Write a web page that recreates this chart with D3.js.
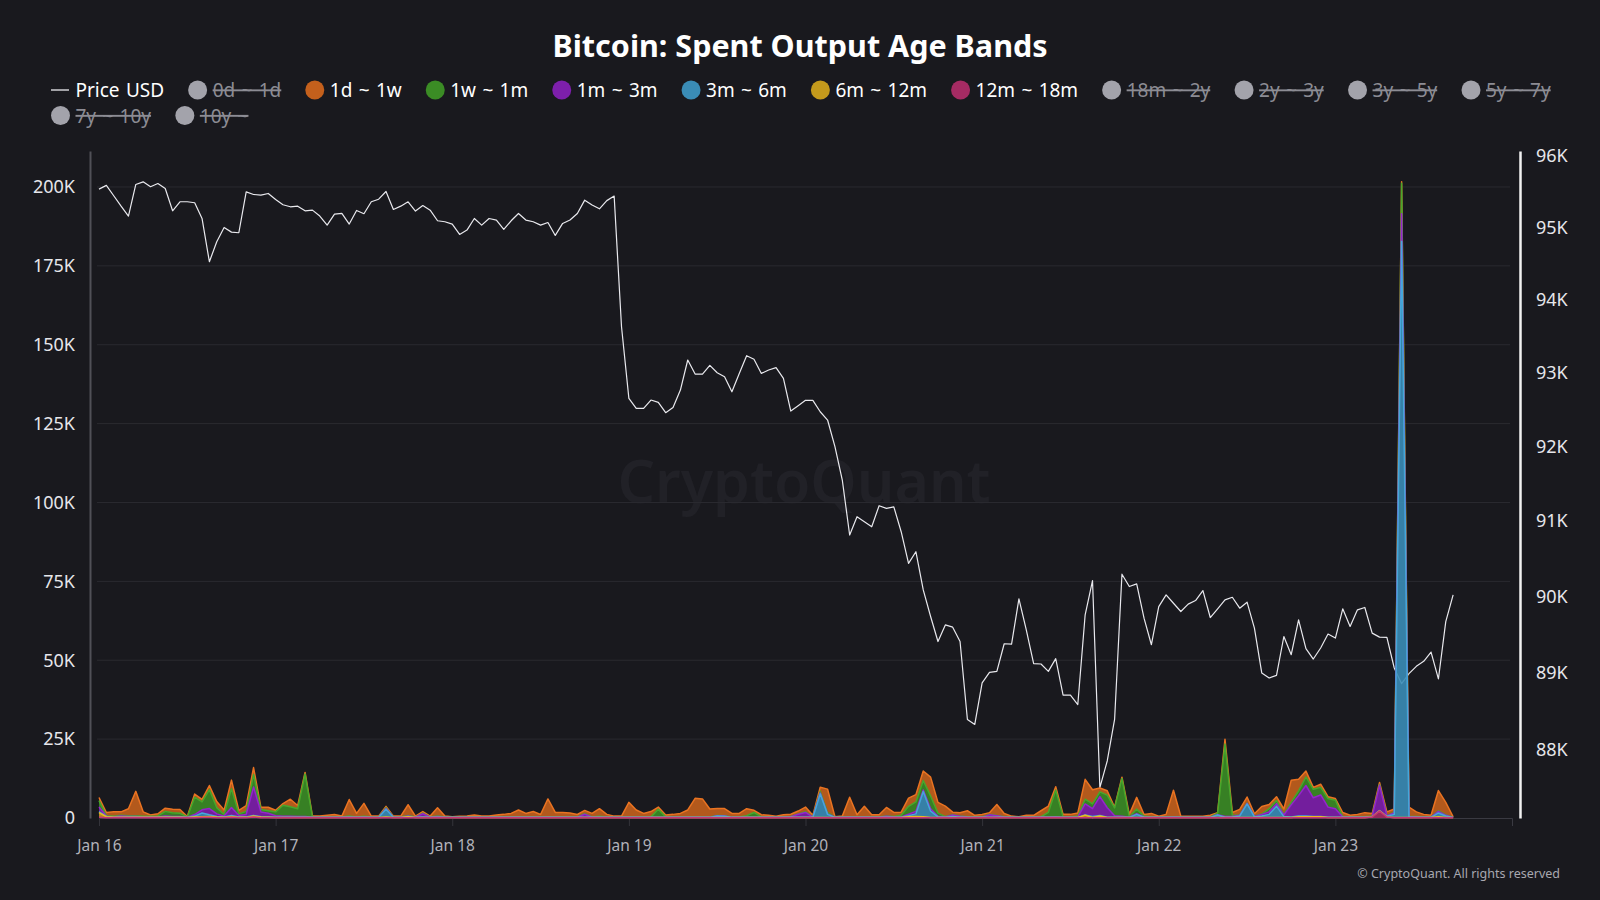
<!DOCTYPE html>
<html>
<head>
<meta charset="utf-8">
<script src="https://cdn.jsdelivr.net/npm/d3@7"></script>
<style>
  html, body { margin: 0; padding: 0; background: #19191e; }
  svg { display: block; }
  text { font-family: "Noto Sans", "Open Sans", sans-serif; }
</style>
</head>
<body>
<div id="chart"></div>
<script>
// hourly data, Jan 16 00:00 UTC onward (185 hours)
// spent output per band, in thousands of BTC
var band1d1w = [
  1.0, 1.0, 1.4, 1.1, 2.2, 7.7, 1.4, 0.4, 0.7, 1.0, 1.1, 1.2, 0.1, 1.0, 0.8, 1.3, 1.9, 1.4, 2.7, 1.1, 1.8, 2.2, 0.7, 1.1,
  0.5, 0.5, 2.4, 1.0, 0.5, 0.3, 0.35, 0.6, 0.8, 0.3, 5.2, 1.1, 4.1, 0.3, 0.3, 0.4, 0.3, 0.3, 3.4, 0.3, 0.5, 0.3, 2.6, 0.3,
  0.1, 0.25, 0.35, 0.6, 0.35, 0.35, 0.6, 0.8, 1.1, 2.2, 1.1, 1.7, 0.8, 5.7, 1.4, 1.4, 1.2, 0.8, 1.0, 1.1, 2.4, 0.8, 0.3, 0.3,
  4.6, 2.2, 1.1, 1.7, 0.7, 0.6, 0.8, 1.1, 2.2, 5.9, 5.7, 2.5, 2.2, 2.3, 1.1, 1.1, 2.2, 0.7, 0.7, 0.5, 0.2, 0.7, 0.7, 0.9,
  1.5, 0.5, 1.3, 7.4, 0.1, 0.3, 6.2, 0.7, 3.3, 0.7, 0.7, 2.7, 1.3, 1.0, 2.6, 2.3, 3.0, 6.0, 3.4, 3.3, 0.8, 1.0, 1.9, 0.5,
  0.8, 0.6, 3.5, 1.0, 0.3, 0.1, 0.5, 0.5, 1.9, 2.0, 1.0, 0.8, 0.8, 1.0, 6.3, 4.5, 1.2, 1.4, 0.2, 0.4, 0.8, 3.7, 0.5, 1.1,
  0.2, 0.8, 8.4, 0.2, 0.2, 0.2, 0.2, 0.5, 0.1, 1.5, 0.9, 1.8, 1.9, 0.8, 2.4, 1.3, 1.2, 1.7, 7.0, 3.7, 1.9, 0.6, 1.0, 0.6,
  0.5, 1.3, 0.5, 0.8, 1.3, 0.8, 0.6, 1.2, 1.0, 0.5, 2.9, 1.5, 0.8, 0.5, 6.4, 4.0, 0.1
];
var band1w1m = [
  2.0, 0.2, 0.2, 0.2, 0.3, 0.3, 0.2, 0.2, 0.3, 1.5, 1.2, 1.0, 0.1, 5.5, 2.5, 6.0, 2.0, 0.5, 6.0, 0.5, 1.0, 4.0, 0.8, 0.8,
  1.2, 3.5, 3.0, 2.5, 13.5, 0.1, 0.05, 0.05, 0.05, 0.05, 0.3, 0.1, 0.2, 0.05, 0.05, 0.3, 0.05, 0.05, 0.2, 0.05, 0.2, 0.05, 0.2, 0.05,
  0.05, 0.05, 0.05, 0.1, 0.05, 0.05, 0.1, 0.1, 0.1, 0.1, 0.1, 0.1, 0.05, 0.1, 0.1, 0.1, 0.1, 0.05, 0.2, 0.1, 0.3, 0.1, 0.05, 0.05,
  0.1, 0.1, 0.1, 0.1, 2.5, 0.1, 0.1, 0.1, 0.1, 0.1, 0.1, 0.1, 0.1, 0.1, 0.1, 0.1, 0.5, 1.5, 0.1, 0.1, 0.1, 0.1, 0.1, 0.1,
  0.2, 0.1, 0.5, 0.5, 0.05, 0.05, 0.1, 0.1, 0.1, 0.1, 0.1, 0.1, 0.1, 0.5, 2.5, 3.0, 3.0, 4.0, 1.0, 0.1, 0.1, 0.1, 0.1, 0.1,
  0.1, 0.1, 0.1, 0.1, 0.05, 0.05, 0.1, 0.1, 0.1, 1.5, 8.5, 0.1, 0.1, 0.3, 1.5, 1.5, 1.5, 4.0, 2.5, 12.0, 0.1, 1.5, 0.3, 0.1,
  0.1, 0.1, 0.1, 0.1, 0.1, 0.1, 0.1, 0.1, 0.5, 23.0, 0.4, 0.1, 0.1, 0.1, 0.1, 1.0, 1.0, 0.2, 0.8, 1.5, 2.7, 2.7, 2.4, 2.7,
  2.7, 0.1, 0.1, 0.1, 0.1, 0.1, 0.3, 0.1, 0.2, 9.6, 0.1, 0.1, 0.1, 0.1, 0.2, 0.1, 0.05
];
var band1m3m = [
  1.5, 0.1, 0.1, 0.4, 0.2, 0.2, 0.1, 0.1, 0.1, 0.3, 0.2, 0.2, 0.05, 0.5, 1.0, 2.0, 0.8, 0.3, 2.5, 0.5, 0.8, 9.0, 1.5, 1.2,
  0.5, 0.3, 0.3, 0.2, 0.2, 0.05, 0.05, 0.05, 0.05, 0.05, 0.1, 0.05, 0.1, 0.05, 0.05, 0.2, 0.05, 0.05, 0.1, 0.05, 1.0, 0.05, 0.2, 0.05,
  0.05, 0.05, 0.05, 0.05, 0.05, 0.05, 0.05, 0.05, 0.05, 0.05, 0.05, 0.05, 0.05, 0.05, 0.05, 0.05, 0.05, 0.05, 1.0, 0.05, 0.05, 0.05, 0.05, 0.05,
  0.05, 0.05, 0.05, 0.05, 0.05, 0.05, 0.05, 0.05, 0.05, 0.05, 0.05, 0.05, 0.05, 0.05, 0.05, 0.05, 0.05, 0.05, 0.05, 0.05, 0.05, 0.05, 0.2, 1.0,
  1.5, 0.05, 0.3, 0.1, 0.05, 0.05, 0.1, 0.05, 0.1, 0.05, 0.05, 0.3, 0.1, 0.1, 0.5, 0.8, 0.5, 0.8, 0.2, 0.1, 0.5, 0.3, 0.1, 0.05,
  0.05, 0.8, 0.5, 0.1, 0.05, 0.05, 0.05, 0.05, 0.1, 0.1, 0.2, 0.05, 0.05, 0.1, 3.5, 2.5, 6.0, 3.0, 0.5, 0.3, 0.05, 0.2, 0.05, 0.05,
  0.05, 0.05, 0.1, 0.05, 0.05, 0.05, 0.05, 0.05, 0.1, 0.2, 0.1, 0.2, 0.2, 0.1, 0.5, 0.8, 0.8, 0.5, 3.8, 6.5, 9.7, 5.9, 6.8, 3.2,
  2.7, 0.1, 0.05, 0.05, 0.1, 0.1, 8.0, 0.1, 0.5, 8.8, 0.1, 0.1, 0.05, 0.05, 0.5, 0.2, 0.05
];
var band3m6m = [
  0.3, 0.05, 0.05, 0.05, 0.05, 0.05, 0.05, 0.05, 0.05, 0.1, 0.1, 0.1, 0.05, 0.3, 1.2, 0.5, 0.2, 0.1, 0.3, 0.1, 0.1, 0.2, 0.1, 0.1,
  0.1, 0.1, 0.1, 0.1, 0.1, 0.05, 0.05, 0.05, 0.05, 0.05, 0.1, 0.05, 0.1, 0.05, 0.05, 2.5, 0.05, 0.05, 0.1, 0.05, 0.2, 0.05, 0.1, 0.05,
  0.05, 0.05, 0.05, 0.05, 0.05, 0.05, 0.05, 0.05, 0.05, 0.05, 0.05, 0.05, 0.05, 0.05, 0.05, 0.05, 0.05, 0.05, 0.05, 0.05, 0.05, 0.05, 0.05, 0.05,
  0.05, 0.05, 0.05, 0.05, 0.05, 0.05, 0.05, 0.05, 0.05, 0.05, 0.05, 0.05, 0.5, 0.4, 0.05, 0.05, 0.05, 0.05, 0.05, 0.05, 0.05, 0.05, 0.05, 0.05,
  0.1, 0.05, 7.5, 1.0, 0.05, 0.05, 0.05, 0.05, 0.05, 0.05, 0.05, 0.1, 0.1, 0.1, 0.3, 0.8, 8.0, 2.0, 0.2, 0.1, 0.3, 0.1, 0.05, 0.05,
  0.05, 0.05, 0.05, 0.05, 0.05, 0.05, 0.05, 0.05, 0.05, 0.05, 0.05, 0.05, 0.05, 0.05, 0.05, 0.3, 0.2, 0.1, 0.05, 0.1, 0.05, 1.0, 0.1, 0.05,
  0.05, 0.05, 0.05, 0.05, 0.05, 0.05, 0.05, 0.05, 0.8, 0.1, 0.2, 0.5, 4.3, 0.2, 0.5, 1.0, 3.6, 0.3, 0.2, 0.2, 0.2, 0.1, 0.1, 0.1,
  0.1, 0.1, 0.05, 0.05, 0.05, 0.05, 0.1, 0.2, 1.0, 182.6, 0.2, 0.1, 0.05, 0.05, 1.2, 0.5, 0.05
];
var band6m12m = [
  1.5, 0.3, 0.1, 0.1, 0.1, 0.1, 0.1, 0.1, 0.1, 0.1, 0.1, 0.1, 0.05, 0.2, 0.2, 0.3, 0.2, 0.1, 0.3, 0.1, 0.1, 0.3, 0.2, 0.1,
  0.05, 0.05, 0.05, 0.05, 0.05, 0.05, 0.05, 0.05, 0.05, 0.05, 0.05, 0.05, 0.05, 0.05, 0.05, 0.2, 0.05, 0.05, 0.3, 0.05, 0.05, 0.05, 0.05, 0.05,
  0.05, 0.05, 0.05, 0.05, 0.05, 0.05, 0.05, 0.05, 0.05, 0.05, 0.05, 0.05, 0.05, 0.05, 0.05, 0.05, 0.05, 0.05, 0.05, 0.05, 0.05, 0.05, 0.05, 0.05,
  0.05, 0.05, 0.05, 0.05, 0.05, 0.05, 0.05, 0.05, 0.05, 0.05, 0.05, 0.05, 0.05, 0.05, 0.05, 0.05, 0.05, 0.05, 0.05, 0.05, 0.05, 0.05, 0.05, 0.05,
  0.05, 0.05, 0.05, 0.05, 0.05, 0.05, 0.05, 0.05, 0.05, 0.05, 0.05, 0.05, 0.05, 0.05, 0.3, 0.4, 0.3, 0.05, 0.05, 0.05, 0.05, 0.05, 0.05, 0.05,
  0.05, 0.05, 0.05, 0.05, 0.05, 0.05, 0.05, 0.05, 0.05, 0.05, 0.05, 0.05, 0.05, 0.05, 0.8, 0.05, 0.5, 0.05, 0.05, 0.05, 0.05, 0.05, 0.05, 0.05,
  0.05, 0.05, 0.05, 0.05, 0.05, 0.05, 0.05, 0.05, 0.05, 0.05, 0.05, 0.05, 0.05, 0.05, 0.05, 0.05, 0.05, 0.05, 0.05, 0.3, 0.3, 0.3, 0.3, 0.05,
  0.05, 0.05, 0.05, 0.05, 0.05, 0.05, 0.05, 0.05, 0.05, 0.05, 0.05, 0.05, 0.05, 0.05, 0.3, 0.05, 0.05
];
var band12m18m = [
  0.2, 0.1, 0.1, 0.1, 0.1, 0.1, 0.1, 0.1, 0.1, 0.1, 0.1, 0.1, 0.1, 0.1, 0.2, 0.2, 0.1, 0.1, 0.2, 0.1, 0.1, 0.3, 0.1, 0.1,
  0.1, 0.1, 0.1, 0.1, 0.1, 0.1, 0.1, 0.1, 0.1, 0.1, 0.1, 0.1, 0.1, 0.1, 0.1, 0.1, 0.1, 0.1, 0.1, 0.1, 0.1, 0.1, 0.1, 0.1,
  0.1, 0.1, 0.1, 0.1, 0.1, 0.1, 0.1, 0.1, 0.1, 0.1, 0.1, 0.1, 0.1, 0.1, 0.1, 0.1, 0.1, 0.1, 0.1, 0.1, 0.1, 0.1, 0.1, 0.1,
  0.1, 0.1, 0.1, 0.1, 0.1, 0.1, 0.1, 0.1, 0.1, 0.1, 0.1, 0.1, 0.1, 0.1, 0.1, 0.1, 0.1, 0.1, 0.1, 0.1, 0.1, 0.1, 0.1, 0.1,
  0.1, 0.1, 0.1, 0.1, 0.1, 0.1, 0.1, 0.1, 0.1, 0.1, 0.1, 0.1, 0.1, 0.1, 0.1, 0.1, 0.1, 0.1, 0.1, 0.1, 0.1, 0.1, 0.1, 0.1,
  0.1, 0.1, 0.1, 0.1, 0.1, 0.1, 0.1, 0.1, 0.1, 0.1, 0.1, 0.1, 0.1, 0.1, 0.1, 0.1, 0.1, 0.1, 0.1, 0.1, 0.1, 0.1, 0.1, 0.1,
  0.1, 0.1, 0.1, 0.1, 0.1, 0.1, 0.1, 0.1, 0.1, 0.1, 0.1, 0.1, 0.1, 0.1, 0.1, 0.1, 0.1, 0.1, 0.1, 0.1, 0.1, 0.1, 0.1, 0.1,
  0.1, 0.1, 0.1, 0.1, 0.1, 0.3, 2.2, 0.3, 0.1, 0.1, 0.1, 0.1, 0.1, 0.1, 0.1, 0.1, 0.1
];
// BTC price in USD (right axis is logarithmic)
var priceUSD = [
  95537, 95589, 95444, 95299, 95161, 95602, 95639, 95570, 95615, 95546, 95234, 95360, 95360, 95346, 95127, 94526, 94803, 95002, 94937, 94928, 95499, 95462, 95452, 95476,
  95392, 95318, 95290, 95299, 95234, 95243, 95161, 95034, 95187, 95197, 95049, 95239, 95193, 95360, 95396, 95504, 95253, 95299, 95360, 95230, 95308, 95243, 95095, 95081,
  95049, 94905, 94965, 95127, 95034, 95127, 95105, 94974, 95095, 95197, 95105, 95081, 95034, 95071, 94891, 95058, 95105, 95197, 95383, 95314, 95262, 95376, 95440, 93629,
  92653, 92517, 92517, 92630, 92599, 92458, 92530, 92765, 93175, 92983, 92983, 93102, 93001, 92947, 92742, 92992, 93234, 93184, 92992, 93038, 93070, 92924, 92480, 92553,
  92626, 92626, 92471, 92359, 91999, 91551, 90816, 91060, 90994, 90926, 91207, 91171, 91192, 90860, 90440, 90594, 90089, 89738, 89410, 89628, 89598, 89410, 88395, 88330,
  88869, 89007, 89020, 89381, 89377, 89970, 89564, 89120, 89116, 89020, 89186, 88710, 88710, 88588, 89761, 90212, 87516, 87859, 88395, 90296, 90133, 90168, 89717, 89368,
  89869, 90023, 89913, 89804, 89901, 89948, 90080, 89725, 89839, 89957, 89992, 89848, 89927, 89586, 88998, 88933, 88968, 89476, 89237, 89695, 89316, 89181, 89325, 89508,
  89455, 89839, 89608, 89826, 89857, 89520, 89468, 89464, 89064, 88860, 88990, 89086, 89151, 89272, 88921, 89671, 90023
];

var leftTicks = [0, 25000, 50000, 75000, 100000, 125000, 150000, 175000, 200000];
var rightTicks = [88000, 89000, 90000, 91000, 92000, 93000, 94000, 95000, 96000];

// legend, in chart order; "on" false = series switched off
var legendItems = [
  {name: "Price USD", line: true, on: true},
  {name: "0d ~ 1d", on: false},
  {name: "1d ~ 1w", on: true},
  {name: "1w ~ 1m", on: true},
  {name: "1m ~ 3m", on: true},
  {name: "3m ~ 6m", on: true},
  {name: "6m ~ 12m", on: true},
  {name: "12m ~ 18m", on: true},
  {name: "18m ~ 2y", on: false},
  {name: "2y ~ 3y", on: false},
  {name: "3y ~ 5y", on: false},
  {name: "5y ~ 7y", on: false},
  {name: "7y ~ 10y", on: false},
  {name: "10y ~", on: false}
];
var colors = {
  "1d ~ 1w": "#c4601c",
  "1w ~ 1m": "#3b8c25",
  "1m ~ 3m": "#7d1fab",
  "3m ~ 6m": "#3a8cb6",
  "6m ~ 12m": "#c49a1c",
  "12m ~ 18m": "#a52b63"
};
var bands = {
  "1d ~ 1w": band1d1w,
  "1w ~ 1m": band1w1m,
  "1m ~ 3m": band1m3m,
  "3m ~ 6m": band3m6m,
  "6m ~ 12m": band6m12m,
  "12m ~ 18m": band12m18m
};
// bottom of the stack first
var stackKeys = ["12m ~ 18m", "6m ~ 12m", "3m ~ 6m", "1m ~ 3m", "1w ~ 1m", "1d ~ 1w"];

var W = 1600, H = 900;
var start = new Date(Date.UTC(2026, 0, 16));
var times = d3.utcHours(start, d3.utcHour.offset(start, priceUSD.length));

var rows = times.map(function(t, i) {
  var r = {t: t, price: priceUSD[i]};
  stackKeys.forEach(function(k) { r[k] = bands[k][i] * 1000; });
  return r;
});

var svg = d3.select("#chart").append("svg")
  .attr("width", W)
  .attr("height", H);

svg.append("rect").attr("width", W).attr("height", H).attr("fill", "#19191e");

var x = d3.scaleUtc().domain([start, d3.utcDay.offset(start, 8)]).range([99, 1512]);
var yL = d3.scaleLinear().domain([0, 211400]).range([818, 151]);
var yR = d3.scaleLog().domain([87128, 96072]).range([818, 151]);

// watermark
svg.append("text")
  .attr("x", 804).attr("y", 480)
  .attr("text-anchor", "middle")
  .attr("dominant-baseline", "central")
  .attr("font-size", 59)
  .attr("font-weight", 600)
  .attr("fill", "#212127")
  .text("CryptoQuant");

// grid
svg.append("g").selectAll("line")
  .data(leftTicks.slice(1))
  .enter().append("line")
  .attr("x1", 97).attr("x2", 1510)
  .attr("y1", function(d) { return yL(d); })
  .attr("y2", function(d) { return yL(d); })
  .attr("stroke", "#2a2a30")
  .attr("stroke-width", 1);

// x axis
var xAxis = svg.append("g")
  .attr("transform", "translate(0,818)")
  .call(d3.axisBottom(x)
    .ticks(d3.utcDay.every(1))
    .tickFormat(d3.utcFormat("%b %d"))
    .tickSize(8)
    .tickPadding(14));
xAxis.select(".domain").attr("stroke", "#3a3a42");
xAxis.selectAll(".tick line").attr("stroke", "#34343b");
xAxis.selectAll(".tick text")
  .attr("fill", "#b2b2b9")
  .attr("font-size", 15.5)
  .attr("font-family", "Noto Sans");
xAxis.selectAll(".tick").filter(function(d) { return +d >= +d3.utcDay.offset(start, 8); }).remove();

// left axis
var lAxis = svg.append("g")
  .attr("transform", "translate(90,0)")
  .call(d3.axisLeft(yL)
    .tickValues(leftTicks)
    .tickSize(0)
    .tickPadding(15)
    .tickFormat(function(d) { return d === 0 ? "0" : (d / 1000) + "K"; }));
lAxis.select(".domain").attr("stroke", "#505057").attr("stroke-width", 2);
lAxis.selectAll(".tick text")
  .attr("fill", "#e6e6ea")
  .attr("font-size", 18)
  .attr("font-family", "Noto Sans");

// right axis
var rAxis = svg.append("g")
  .attr("transform", "translate(1520,0)")
  .call(d3.axisRight(yR)
    .tickValues(rightTicks)
    .tickSize(0)
    .tickPadding(16)
    .tickFormat(function(d) { return (d / 1000) + "K"; }));
rAxis.select(".domain").attr("stroke", "#f2f2f2").attr("stroke-width", 2.5);
rAxis.selectAll(".tick text")
  .attr("fill", "#e6e6ea")
  .attr("font-size", 18)
  .attr("font-family", "Noto Sans");

// price line
var priceLine = d3.line()
  .x(function(d) { return x(d.t); })
  .y(function(d) { return yR(d.price); });

svg.append("path")
  .datum(rows)
  .attr("d", priceLine)
  .attr("fill", "none")
  .attr("stroke", "#e9e9ee")
  .attr("stroke-width", 1.2)
  .attr("stroke-linejoin", "round");

// stacked bands, painted from the top layer down
var stacked = d3.stack().keys(stackKeys)(rows);

var area = d3.area()
  .x(function(d) { return x(d.data.t); })
  .y0(function(d) { return yL(d[0]); })
  .y1(function(d) { return yL(d[1]); });

var topLine = d3.line()
  .x(function(d) { return x(d.data.t); })
  .y(function(d) { return yL(d[1]); });

var layers = svg.append("g").selectAll("g")
  .data(stacked.slice().reverse())
  .enter().append("g");

layers.append("path")
  .attr("d", area)
  .attr("fill", function(d) { return colors[d.key]; })
  .attr("fill-opacity", 0.9);

layers.append("path")
  .attr("d", topLine)
  .attr("fill", "none")
  .attr("stroke", function(d) { return d3.color(colors[d.key]).brighter(0.5); })
  .attr("stroke-width", 1.5)
  .attr("stroke-linejoin", "round");

// title
svg.append("text")
  .attr("x", 800).attr("y", 57)
  .attr("text-anchor", "middle")
  .attr("font-size", 30.5)
  .attr("font-weight", 700)
  .attr("fill", "#ffffff")
  .text("Bitcoin: Spent Output Age Bands");

// legend, flowing in rows
var legend = svg.append("g");
var lx = 51, ly = 90, rowH = 25.5, maxX = 1560;
legendItems.forEach(function(it) {
  var g = legend.append("g");
  var txt = g.append("text")
    .attr("dominant-baseline", "central")
    .attr("font-size", 19)
    .attr("word-spacing", 1.4)
    .attr("fill", it.on ? "#ffffff" : "#8c8c94")
    .attr("text-decoration", it.on ? null : "line-through")
    .text(it.name);
  var tw = txt.node().getBBox().width;
  var markW = 24.5;
  if (lx + markW + tw > maxX) { lx = 51; ly += rowH; }
  if (it.line) {
    g.append("line")
      .attr("x1", lx).attr("x2", lx + 18)
      .attr("y1", ly).attr("y2", ly)
      .attr("stroke", "#cfcfd4").attr("stroke-width", 1.5);
  } else {
    g.append("circle")
      .attr("cx", lx + 9.5).attr("cy", ly).attr("r", 9.5)
      .attr("fill", it.on ? colors[it.name] : "#a3a3ab");
  }
  txt.attr("x", lx + markW).attr("y", ly);
  lx += markW + tw + 24;
});

// copyright
svg.append("text")
  .attr("x", 1560).attr("y", 873)
  .attr("text-anchor", "end")
  .attr("dominant-baseline", "central")
  .attr("font-size", 12.5)
  .attr("font-family", "Roboto")
  .attr("fill", "#a8a8b0")
  .text("© CryptoQuant. All rights reserved");
</script>
</body>
</html>
